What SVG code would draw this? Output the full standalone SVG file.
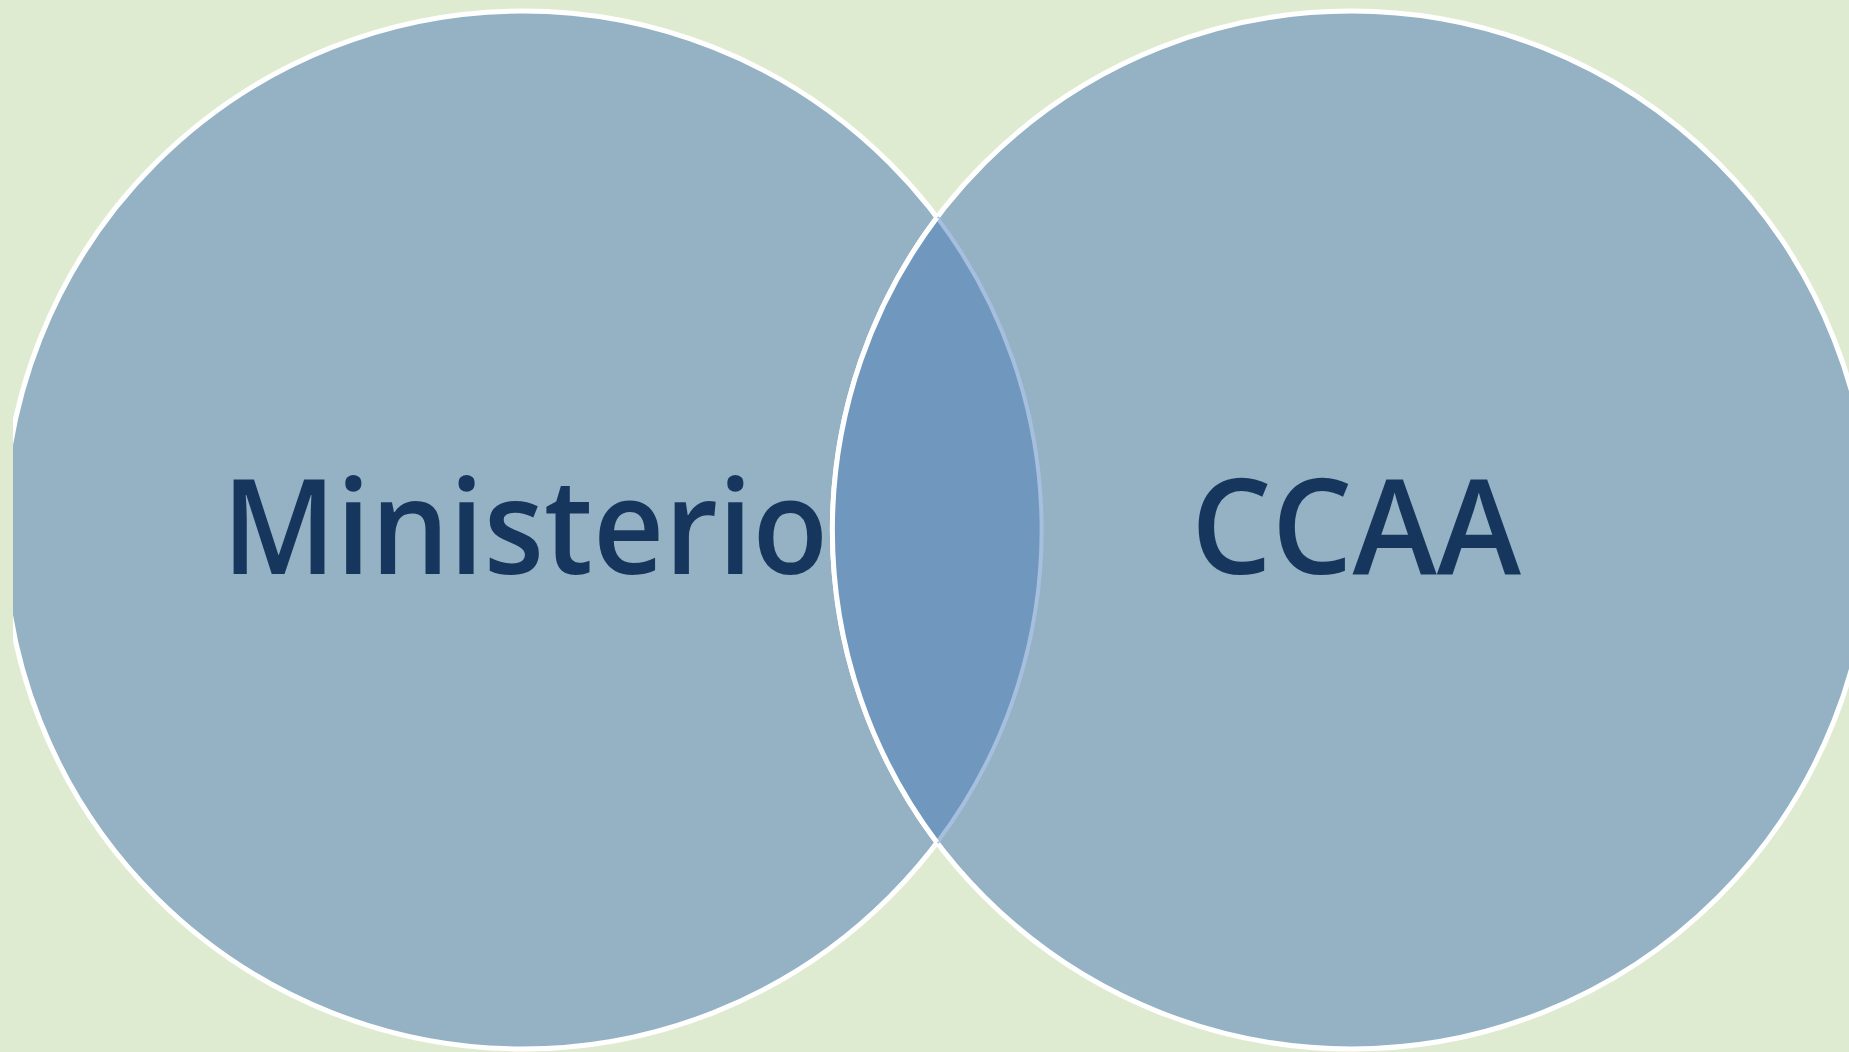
<svg xmlns="http://www.w3.org/2000/svg" width="1849" height="1052" viewBox="0 0 1849 1052">
<style>
.circ{fill:#94b2c4;stroke:#ffffff;stroke-width:5}
.lbl{font-family:"Open Sans","Liberation Sans",sans-serif;font-size:133px;font-weight:600;fill:#17365d}
</style>
<defs>
<clipPath id="clip"><rect x="13" y="0" width="1836" height="1052"/></clipPath>
</defs>
<rect width="1849" height="1052" fill="#dfebd1"/>
<g clip-path="url(#clip)">
<g id="ministerio">
<circle class="circ" cx="522.6" cy="530" r="519"/>
</g>
<g id="ccaa">
<circle class="circ" cx="1351.4" cy="530" r="519"/>
</g>
<g id="overlap">
<path d="M937,217.5 A519,519 0 0 0 937,842.5 A519,519 0 0 0 937,217.5 Z" fill="#7097bd"/>
<path d="M937,842.5 A519,519 0 0 0 937,217.5" fill="none" stroke="#a6bfde" stroke-width="4"/>
<path d="M937,217.5 A519,519 0 0 0 937,842.5" fill="none" stroke="#ffffff" stroke-width="5"/>
</g>
<g id="labels">
<text class="lbl" x="222" y="574" textLength="606" lengthAdjust="spacingAndGlyphs">Ministerio</text>
<text class="lbl" x="1191" y="574" textLength="330" lengthAdjust="spacingAndGlyphs">CCAA</text>
</g>
</g>
</svg>
